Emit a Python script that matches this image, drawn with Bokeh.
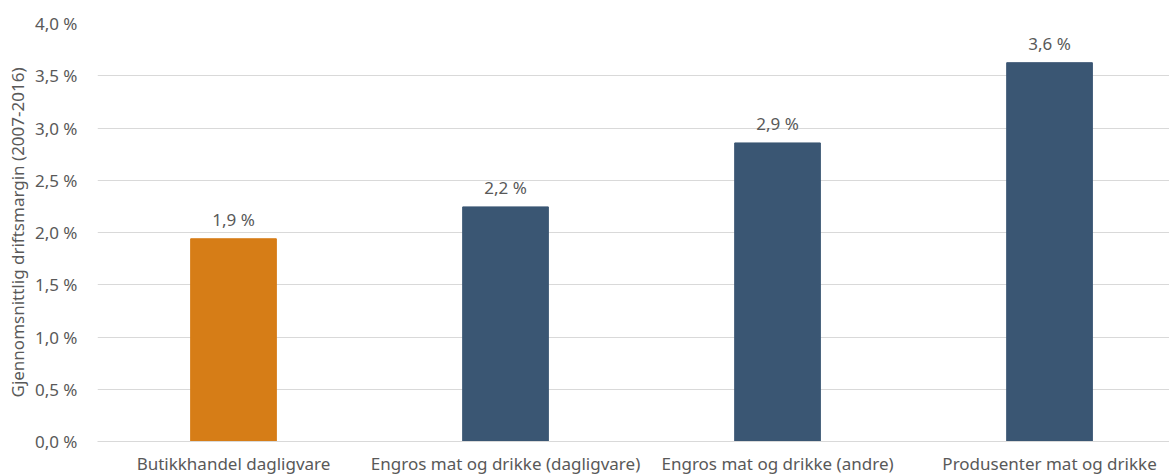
from bokeh.plotting import figure
from bokeh.models import Range1d, FixedTicker, CustomJSTickFormatter, ColumnDataSource
from bokeh.core.properties import value
from bokeh.embed import file_html
from bokeh.resources import INLINE

categories = ["Butikkhandel dagligvare", "Engros mat og drikke (dagligvare)",
              "Engros mat og drikke (andre)", "Produsenter mat og drikke"]
margins = [1.94, 2.245, 2.857, 3.625]
bar_labels = ["1,9 %", "2,2 %", "2,9 %", "3,6 %"]
colors = ["#D67D17", "#3A5673", "#3A5673", "#3A5673"]
y_ticks = [0.0, 0.5, 1.0, 1.5, 2.0, 2.5, 3.0, 3.5, 4.0]

FONT = "Noto Sans"
GRAY = "#595959"
FS = "17px"

xs = list(range(len(categories)))
src = ColumnDataSource(dict(x=xs, top=margins, label=bar_labels, color=colors))

p = figure(width=1169, height=475, output_backend="svg", toolbar_location=None,
           x_range=Range1d(-0.5, 3.441), y_range=Range1d(0, 4.0),
           frame_width=1072, frame_height=418,
           min_border_left=97, min_border_right=0, min_border_top=23, min_border_bottom=34)
p.outline_line_color = None
p.background_fill_color = "white"

p.vbar(x="x", top="top", width=0.315, bottom=0, color="color", source=src)
p.text(x="x", y="top", text="label", source=src, text_align="center",
       text_baseline="bottom", y_offset=-8, text_font=value(FONT),
       text_font_size=FS, text_color=GRAY)

# y axis
p.yaxis.ticker = FixedTicker(ticks=y_ticks)
p.yaxis.formatter = CustomJSTickFormatter(code="return tick.toFixed(1).replace('.', ',') + ' %';")
p.yaxis.axis_line_color = None
p.yaxis.major_tick_line_color = None
p.yaxis.minor_tick_line_color = None
p.yaxis.major_tick_out = 0
p.yaxis.major_label_standoff = 20
p.yaxis.major_label_text_font = FONT
p.yaxis.major_label_text_font_size = FS
p.yaxis.major_label_text_color = GRAY
p.yaxis.axis_label = "Gjennomsnittlig driftsmargin (2007-2016)"
p.yaxis.axis_label_text_font = FONT
p.yaxis.axis_label_text_font_size = FS
p.yaxis.axis_label_text_font_style = "normal"
p.yaxis.axis_label_text_color = GRAY
p.yaxis.axis_label_standoff = 3

# x axis
p.xaxis.ticker = FixedTicker(ticks=xs)
p.xaxis.major_label_overrides = {i: c for i, c in enumerate(categories)}
p.xaxis.axis_line_color = "#D9D9D9"
p.xaxis.major_tick_line_color = None
p.xaxis.minor_tick_line_color = None
p.xaxis.major_tick_out = 0
p.xaxis.major_label_standoff = 10
p.xaxis.major_label_text_font = FONT
p.xaxis.major_label_text_font_size = FS
p.xaxis.major_label_text_color = GRAY

p.xgrid.grid_line_color = None
p.ygrid.ticker = FixedTicker(ticks=y_ticks)
p.ygrid.grid_line_color = "#D9D9D9"
p.ygrid.grid_line_width = 1

open("out.html", "w").write(file_html(p, INLINE))
